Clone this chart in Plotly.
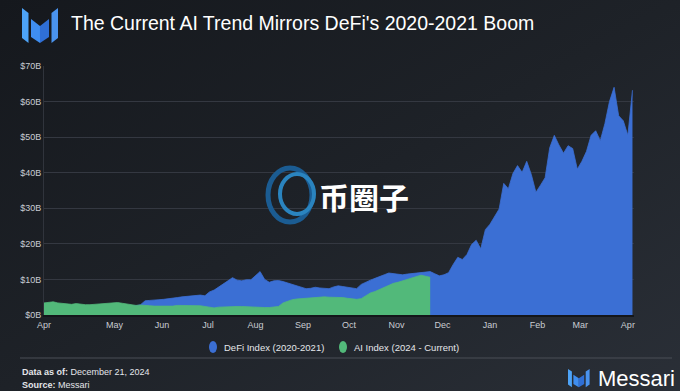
import base64
import datetime as dt
import plotly.graph_objects as go

# ---------------- data ----------------
start_date = dt.date(2020, 3, 16)
step_days = 3

defi_values = [
    2.2, 2.3, 2.2, 2.1, 2.0, 2.1, 2.2, 2.2, 2.1, 2.3, 2.2, 2.4, 2.3, 2.5, 2.4, 2.6,
    2.5, 2.7, 2.6, 2.6, 2.6, 2.9, 4.0, 4.1, 4.1, 4.3, 4.4, 4.5, 4.7, 4.9, 5.1, 5.2,
    5.3, 5.5, 5.6, 5.4, 6.5, 7.0, 7.8, 8.6, 9.6, 10.5, 9.8, 9.6, 9.9, 9.9, 11.2, 12.2,
    10.0, 9.2, 9.6, 9.7, 9.4, 9.0, 8.5, 8.0, 7.6, 7.4, 7.5, 7.8, 7.6, 7.4, 7.4, 7.9,
    8.2, 8.0, 7.8, 7.6, 7.4, 8.6, 9.3, 9.8, 10.3, 10.7, 11.3, 11.8, 11.6, 11.3, 11.3, 11.5,
    11.6, 11.8, 11.9, 12.0, 12.2, 11.6, 11.0, 11.3, 11.9, 14.2, 16.2, 15.6, 17.0, 19.8, 21.0, 18.6,
    24.0, 25.5, 27.8, 29.8, 37.0, 35.5, 39.8, 42.0, 40.1, 43.2, 39.5, 34.5, 36.5, 38.6, 47.0, 50.5,
    47.8, 45.5, 47.6, 46.8, 41.0, 43.2, 46.0, 50.5, 51.8, 49.0, 53.8, 60.0, 64.0, 56.0, 54.6, 50.5,
    63.2,
]

ai_values = [
    3.4, 3.5, 3.7, 3.4, 3.2, 3.0, 3.0, 3.2, 3.0, 2.9, 2.9, 3.0, 3.2, 3.3, 3.5, 3.6,
    3.5, 3.3, 3.1, 2.8, 2.7, 2.8, 2.8, 2.6, 2.5, 2.5, 2.4, 2.4, 2.5, 2.7, 2.7, 2.8,
    2.8, 2.7, 2.6, 2.4, 2.1, 2.0, 2.2, 2.3, 2.3, 2.3, 2.4, 2.4, 2.3, 2.3, 2.2, 2.2,
    2.1, 2.1, 2.2, 2.4, 3.4, 3.9, 4.3, 4.5, 4.6, 4.8, 4.9, 5.0, 5.1, 5.1, 5.0, 5.0,
    5.0, 4.9, 4.7, 4.5, 4.4, 4.6, 5.5, 6.2, 6.6, 7.2, 7.9, 8.4, 8.9, 9.2, 9.6, 10.0,
    10.4, 10.8, 11.2, 10.9, 10.6,
]

tick_dates = ["2020-03-16", "2020-05-01", "2020-06-01", "2020-07-01", "2020-08-01",
              "2020-09-01", "2020-10-01", "2020-11-01", "2020-12-01", "2021-01-01",
              "2021-02-01", "2021-03-01", "2021-04-01"]
tick_labels = ["Apr", "May", "Jun", "Jul", "Aug", "Sep", "Oct", "Nov", "Dec",
               "Jan", "Feb", "Mar", "Apr"]
y_ticks = [0, 10, 20, 30, 40, 50, 60, 70]
y_labels = ["$0B", "$10B", "$20B", "$30B", "$40B", "$50B", "$60B", "$70B"]

defi_dates = [start_date + dt.timedelta(days=step_days * i) for i in range(len(defi_values))]
ai_dates = [start_date + dt.timedelta(days=step_days * i) for i in range(len(ai_values))]

# ---------------- layout helpers ----------------
W, H = 680, 391
L, R, T, B = 44, 46, 66, 76
PW, PH = W - L - R, H - T - B


def px(x):
    return (x - L) / PW


def py(y):
    return (H - B - y) / PH


def path(points):
    return "M " + " L ".join(f"{px(x):.5f},{py(y):.5f}" for x, y in points) + " Z"


BLUE = "#3b6fd4"
GREEN = "#52b97a"

# background gradient (svg data uri, local)
svg = (
    f'<svg xmlns="http://www.w3.org/2000/svg" width="{W}" height="{H}">'
    '<defs><linearGradient id="g" x1="0" y1="0" x2="1" y2="1">'
    '<stop offset="0" stop-color="#15181d"/>'
    '<stop offset="0.5" stop-color="#1e2228"/>'
    '<stop offset="1" stop-color="#2a2f37"/>'
    '</linearGradient></defs>'
    f'<rect width="{W}" height="{H}" fill="url(#g)"/></svg>'
)
bg_src = "data:image/svg+xml;base64," + base64.b64encode(svg.encode()).decode()

fig = go.Figure()
fig.add_trace(go.Scatter(
    x=defi_dates, y=defi_values, mode="lines", fill="tozeroy",
    line=dict(color=BLUE, width=0.8), fillcolor=BLUE,
    name="DeFi Index (2020-2021)", hoverinfo="skip"))
fig.add_trace(go.Scatter(
    x=ai_dates, y=ai_values, mode="lines", fill="tozeroy",
    line=dict(color=GREEN, width=0.8), fillcolor=GREEN,
    name="AI Index (2024 - Current)", hoverinfo="skip"))

shapes = []
# Messari logo top-left
logo_parts = [
    ([(22, 8), (28.5, 13), (28.5, 43), (22, 38)], "#4da3f7"),
    ([(31, 19), (40, 26), (40, 43), (31, 37)], "#3f8ef0"),
    ([(40, 26), (49, 19), (49, 37), (40, 43)], "#2f6fd6"),
    ([(51.5, 13), (58, 8), (58, 38), (51.5, 43)], "#4a93ee"),
]
for pts, col in logo_parts:
    shapes.append(dict(type="path", xref="paper", yref="paper", path=path(pts),
                       fillcolor=col, line=dict(width=0), layer="above"))


# Messari logo bottom-right
def small(pts):
    return [(568 + (x - 22) * 0.6, 369 + (y - 8) * 0.52) for x, y in pts]


for pts, col in logo_parts:
    shapes.append(dict(type="path", xref="paper", yref="paper", path=path(small(pts)),
                       fillcolor=col, line=dict(width=0), layer="above"))

# custom legend markers
shapes.append(dict(type="circle", xref="paper", yref="paper",
                   x0=px(209), x1=px(217), y0=py(353), y1=py(341),
                   fillcolor=BLUE, line=dict(width=0)))
shapes.append(dict(type="circle", xref="paper", yref="paper",
                   x0=px(339), x1=px(347), y0=py(353), y1=py(341),
                   fillcolor=GREEN, line=dict(width=0)))
# separator line
shapes.append(dict(type="line", xref="paper", yref="paper",
                   x0=px(20), x1=px(672), y0=py(358), y1=py(358),
                   line=dict(color="#4a4e57", width=1)))
# watermark ring
shapes.append(dict(type="circle", xref="paper", yref="paper",
                   x0=px(268), x1=px(312), y0=py(222), y1=py(168),
                   fillcolor="rgba(0,0,0,0)", line=dict(color="#1b5c92", width=5)))
shapes.append(dict(type="circle", xref="paper", yref="paper",
                   x0=px(280), x1=px(314), y0=py(214), y1=py(174),
                   fillcolor="rgba(0,0,0,0)", line=dict(color="#2a84bf", width=4)))

ann = []
ann.append(dict(text="The Current AI Trend Mirrors DeFi's 2020-2021 Boom",
                x=px(69), y=py(23), xref="paper", yref="paper", xanchor="left",
                yanchor="middle", showarrow=False,
                font=dict(family="Liberation Sans, Arial", size=19.5, color="#ffffff")))
ann.append(dict(text="DeFi Index (2020-2021)", x=px(222), y=py(347), xref="paper",
                yref="paper", xanchor="left", yanchor="middle", showarrow=False,
                font=dict(family="Liberation Sans, Arial", size=9.5, color="#e4e6ea")))
ann.append(dict(text="AI Index (2024 - Current)", x=px(352), y=py(347), xref="paper",
                yref="paper", xanchor="left", yanchor="middle", showarrow=False,
                font=dict(family="Liberation Sans, Arial", size=9.5, color="#e4e6ea")))
ann.append(dict(text="<b>Data as of:</b> December 21, 2024", x=px(20), y=py(372),
                xref="paper", yref="paper", xanchor="left", yanchor="middle",
                showarrow=False,
                font=dict(family="Liberation Sans, Arial", size=9, color="#e4e6ea")))
ann.append(dict(text="<b>Source:</b> Messari", x=px(20), y=py(385),
                xref="paper", yref="paper", xanchor="left", yanchor="middle",
                showarrow=False,
                font=dict(family="Liberation Sans, Arial", size=9, color="#e4e6ea")))
ann.append(dict(text="Messari", x=px(677), y=py(378), xref="paper", yref="paper",
                xanchor="right", yanchor="middle", showarrow=False,
                font=dict(family="Liberation Sans, Arial", size=22, color="#ffffff")))
ann.append(dict(text="<b>币圈子</b>", x=px(364), y=py(196), xref="paper", yref="paper",
                xanchor="center", yanchor="middle", showarrow=False,
                font=dict(family="Noto Sans CJK SC", size=30, color="#ffffff")))

fig.update_layout(
    width=W, height=H,
    margin=dict(l=L, r=R, t=T, b=B),
    paper_bgcolor="#1d2027",
    plot_bgcolor="rgba(0,0,0,0)",
    showlegend=False,
    shapes=shapes,
    annotations=ann,
    images=[dict(source=bg_src, xref="paper", yref="paper",
                 x=px(0), y=py(0), sizex=W / PW, sizey=H / PH,
                 xanchor="left", yanchor="top", sizing="stretch", layer="below")],
    font=dict(family="Liberation Sans, Arial", color="#c9ccd2", size=9),
    xaxis=dict(
        type="date",
        range=[start_date, start_date + dt.timedelta(days=385)],
        tickmode="array", tickvals=tick_dates, ticktext=tick_labels,
        showgrid=False, zeroline=False, ticks="",
        showline=True, linecolor="#14161a", linewidth=2,
        tickfont=dict(size=9, color="#c9ccd2"),
    ),
    yaxis=dict(
        range=[0, 70], tickmode="array", tickvals=y_ticks, ticktext=y_labels,
        showgrid=True, gridcolor="#343841", gridwidth=1, zeroline=False,
        showline=True, linecolor="#30343c", linewidth=1, ticks="",
        tickfont=dict(size=9, color="#c9ccd2"),
    ),
)

fig.write_html("out.html", config={"displayModeBar": False},
               post_script="document.body.style.margin='0px';"
                           "document.body.style.background='#1d2027';")
